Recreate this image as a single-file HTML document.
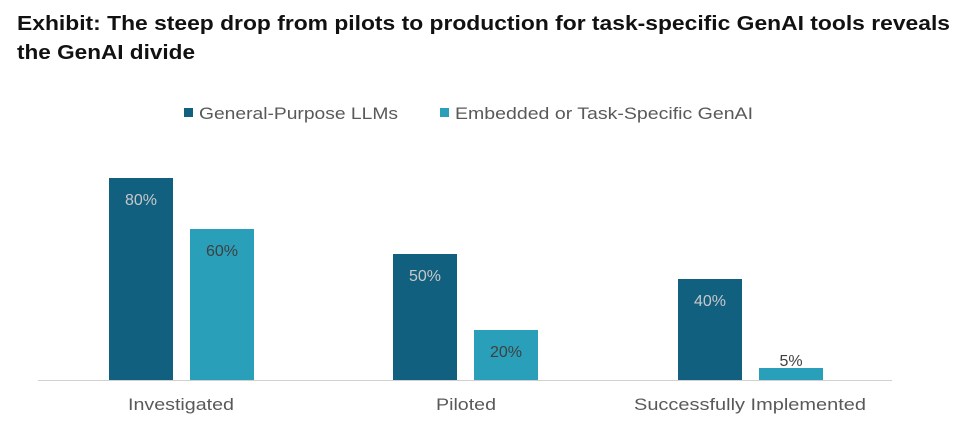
<!DOCTYPE html>
<html><head><style>body{margin:0;background:#fff}svg{display:block}</style></head><body>
<svg width="967" height="426" xmlns="http://www.w3.org/2000/svg" font-family="Liberation Sans, sans-serif">
<text x="17" y="30" font-size="20" font-weight="bold" fill="#111" textLength="933" lengthAdjust="spacingAndGlyphs">Exhibit: The steep drop from pilots to production for task-specific GenAI tools reveals</text>
<text x="17" y="59" font-size="20" font-weight="bold" fill="#111" textLength="178" lengthAdjust="spacingAndGlyphs">the GenAI divide</text>
<rect x="184" y="108" width="9" height="9" fill="#12607f"/>
<text x="199" y="119" font-size="17" fill="#595959" textLength="199" lengthAdjust="spacingAndGlyphs">General-Purpose LLMs</text>
<rect x="440" y="108" width="9" height="9" fill="#2a9fba"/>
<text x="455" y="119" font-size="17" fill="#595959" textLength="298" lengthAdjust="spacingAndGlyphs">Embedded or Task-Specific GenAI</text>
<g fill="#12607f">
<rect x="109" y="178" width="64" height="202"/>
<rect x="393" y="254" width="64" height="126"/>
<rect x="678" y="279" width="64" height="101"/>
</g>
<g fill="#2a9fba">
<rect x="190" y="229" width="64" height="151"/>
<rect x="474" y="330" width="64" height="50"/>
<rect x="759" y="368" width="64" height="12"/>
</g>
<line x1="38" y1="380.5" x2="892" y2="380.5" stroke="#d0d0d0" stroke-width="1"/>
<g font-size="16" text-anchor="middle">
<text x="141" y="205" fill="#c8c8c8">80%</text>
<text x="425" y="281" fill="#c8c8c8">50%</text>
<text x="710" y="306" fill="#c8c8c8">40%</text>
<text x="222" y="256" fill="#404040">60%</text>
<text x="506" y="357" fill="#404040">20%</text>
<text x="791" y="366" fill="#404040">5%</text>
</g>
<g font-size="17" text-anchor="middle" fill="#595959">
<text x="181" y="410" textLength="106" lengthAdjust="spacingAndGlyphs">Investigated</text>
<text x="466" y="410" textLength="60" lengthAdjust="spacingAndGlyphs">Piloted</text>
<text x="750" y="410" textLength="232" lengthAdjust="spacingAndGlyphs">Successfully Implemented</text>
</g>
</svg>
</body></html>
